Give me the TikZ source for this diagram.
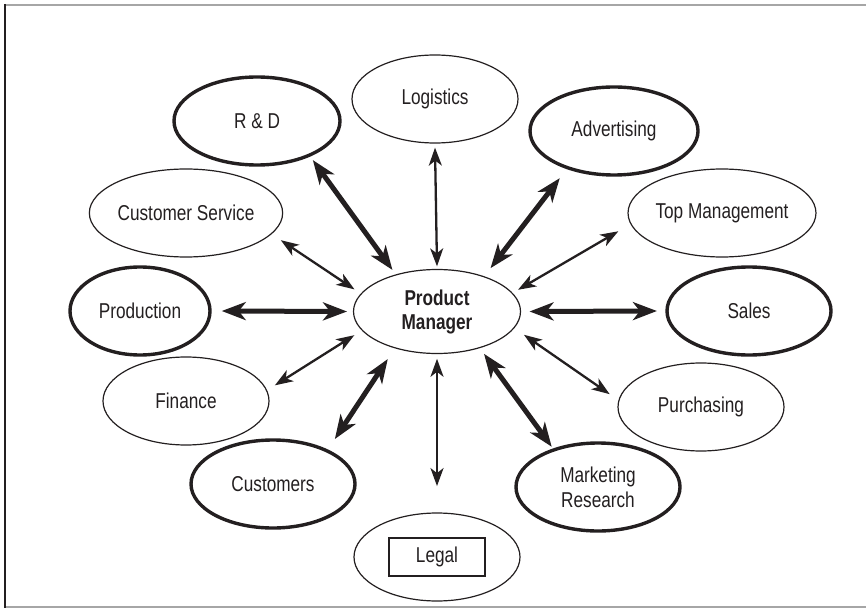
\documentclass[tikz,border=0pt]{standalone}
\usepackage{fontspec}
\setmainfont[FakeStretch=0.8]{Liberation Sans}
\usetikzlibrary{arrows.meta,shapes.geometric,calc}
\definecolor{ink}{HTML}{231F20}
\begin{document}
\begin{tikzpicture}[x=1pt,y=-1pt,
  every node/.style={font=\fontsize{21.5}{25}\selectfont, text=ink},
  thinoval/.style={ellipse, draw=ink, line width=1.2pt, minimum width=166pt, minimum height=88pt, inner sep=0pt, align=center},
  thickoval/.style={thinoval, line width=3.4pt},
  thinarrow/.style={draw=ink, line width=2.3pt, {Stealth[length=18pt,width=13pt,inset=5pt]}-{Stealth[length=18pt,width=13pt,inset=5pt]}},
  thickarrow/.style={draw=ink, line width=5pt, {Stealth[length=24pt,width=18pt,inset=7pt]}-{Stealth[length=24pt,width=18pt,inset=7pt]}}]
\useasboundingbox (0,0) rectangle (866,609);
% frame
\draw[gray!70, line width=1.5pt] (4,5) -- (866,5);
\draw[gray!70, line width=1.5pt] (4,607) -- (866,607);
\draw[ink, line width=2pt] (5,4) -- (5,608);
% nodes
\node[thinoval, minimum width=167pt, minimum height=84pt, font=\bfseries\fontsize{21.5}{24}\selectfont] (pm) at (437,311.5) {Product\\Manager};
\node[thinoval] (log) at (435,99) {Logistics};
\node[thickoval] (rd) at (257,121) {R \& D};
\node[thickoval, minimum width=168pt] (adv) at (614,131) {Advertising};
\node[thinoval] (cs) at (186,213) {Customer Service};
\node[thinoval] (tm) at (722,213) {Top Management};
\node[thickoval, minimum width=140pt] (prod) at (140,311) {Production};
\node[thickoval, minimum width=164pt] (sales) at (749,311) {Sales};
\node[thinoval] (fin) at (186,401) {Finance};
\node[thinoval] (pur) at (701,407) {Purchasing};
\node[thickoval, minimum width=164pt] (cust) at (273,484) {Customers};
\node[thickoval, minimum width=164pt] (mr) at (598,487) {Marketing\\Research};
\node[thinoval] (legal) at (437,557) {};
\node[draw=ink, line width=1.3pt, minimum width=96pt, minimum height=38pt, inner sep=0pt] (legalbox) at (437,557) {Legal};
% connectors
\draw[thinarrow] ($(log)!1.09!(log.-90)$) -- ($(pm)!1.06!(pm.90)$);
\draw[thickarrow] ($(rd)!1.08!(rd.-35.1)$) -- ($(pm)!1.11!(pm.137)$);
\draw[thickarrow] ($(adv)!1.21!(adv.221.5)$) -- ($(pm)!1.20!(pm.39.1)$);
\draw[thinarrow] ($(cs)!1.15!(cs.-16)$) -- ($(pm)!1.11!(pm.165)$);
\draw[thinarrow] ($(tm)!1.17!(tm.190.5)$) -- ($(pm)!1.09!(pm.15.4)$);
\draw[thickarrow] ($(prod)!1.14!(prod.0)$) -- ($(pm)!1.07!(pm.180)$);
\draw[thickarrow] ($(sales)!1.10!(sales.180)$) -- ($(pm)!1.10!(pm.0)$);
\draw[thinarrow] ($(fin)!1.12!(fin.10.3)$) -- ($(pm)!1.13!(pm.196.5)$);
\draw[thinarrow] ($(pur)!1.13!(pur.172.5)$) -- ($(pm)!1.17!(pm.-15)$);
\draw[thickarrow] ($(cust)!1.23!(cust.36.3)$) -- ($(pm)!1.26!(pm.224.4)$);
\draw[thinarrow] ($(legal)!1.59!(legal.90)$) -- ($(pm)!1.11!(pm.-90)$);
\draw[thickarrow] ($(mr)!1.04!(mr.139.1)$) -- ($(pm)!1.14!(pm.-42.4)$);
\end{tikzpicture}
\end{document}
